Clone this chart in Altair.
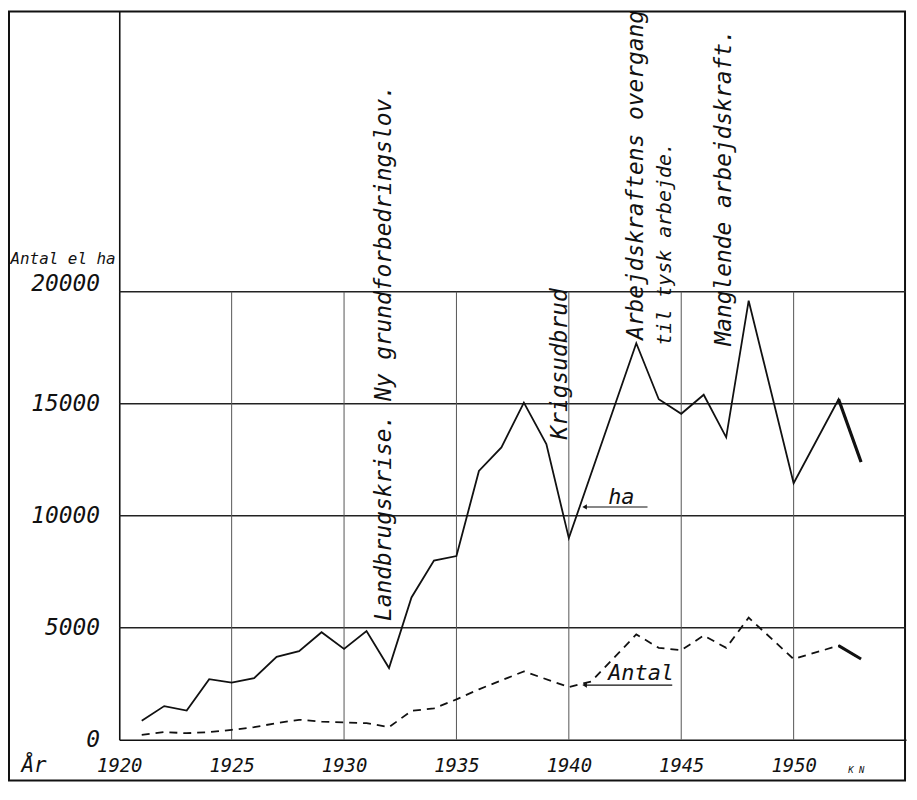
import altair as alt
import pandas as pd

# ---- data ----
ha_years = [1921, 1922, 1923, 1924, 1925, 1926, 1927, 1928, 1929, 1930,
            1931, 1932, 1933, 1934, 1935, 1936, 1937, 1938, 1939, 1940,
            1943, 1944, 1945, 1946, 1947, 1948, 1950, 1952, 1953]
ha_values = [850, 1500, 1300, 2700, 2550, 2750, 3700, 3950, 4800, 4050,
             4850, 3200, 6350, 8000, 8200, 12000, 13050, 15050, 13200, 9000,
             17700, 15200, 14550, 15400, 13500, 19600, 11450, 15200, 12400]

antal_years = [1921, 1922, 1923, 1924, 1925, 1926, 1927, 1928, 1929, 1930,
               1931, 1932, 1933, 1934, 1935, 1936, 1937, 1938, 1940, 1941,
               1943, 1944, 1945, 1946, 1947, 1948, 1950, 1952, 1953]
antal_values = [220, 340, 290, 340, 440, 560, 740, 890, 810, 770,
                740, 560, 1290, 1400, 1800, 2250, 2650, 3050, 2350, 2600,
                4700, 4100, 4000, 4650, 4100, 5450, 3600, 4200, 3600]

x_tick_years = [1920, 1925, 1930, 1935, 1940, 1945, 1950]
grid_years = [1925, 1930, 1935, 1940, 1945, 1950]
y_tick_values = [0, 5000, 10000, 15000, 20000]

ann_texts = ["Landbrugskrise. Ny grundforbedringslov.", "Krigsudbrud",
             "Arbejdskraftens overgang", "til tysk arbejde.",
             "Manglende arbejdskraft."]
ann_years = [1931.8, 1939.6, 1943.0, 1944.3, 1946.9]
ann_values = [5300, 13400, 17850, 17600, 17600]
ann_sizes = [23, 23, 23, 20, 23]

series_labels = ["ha", "Antal"]
series_label_years = [1941.75, 1941.75]
series_label_values = [10520, 2680]
arrow_years = [1940.7, 1940.7]
arrow_end_years = [1943.5, 1944.6]
arrow_values = [10390, 2440]

FONT = "DejaVu Sans Mono"
X_DOMAIN = [1920, 1955]
Y_DOMAIN = [0, 32550]

ha_df = pd.DataFrame({"year": ha_years, "value": ha_values})
antal_df = pd.DataFrame({"year": antal_years, "value": antal_values})
hgrid_df = pd.DataFrame({"value": y_tick_values[1:],
                         "year": X_DOMAIN[0], "year2": X_DOMAIN[1]})
vgrid_df = pd.DataFrame({"year": grid_years, "value": 0,
                         "value2": y_tick_values[-1]})
ann_df = pd.DataFrame({"year": ann_years, "value": ann_values,
                       "text": ann_texts, "size": ann_sizes})
lab_df = pd.DataFrame({"year": series_label_years, "value": series_label_values,
                       "text": series_labels})
arrow_df = pd.DataFrame({"year": arrow_years, "year2": arrow_end_years,
                         "value": arrow_values})
one = pd.DataFrame({"k": [0]})

xs = alt.Scale(domain=X_DOMAIN, nice=False, zero=False)
ys = alt.Scale(domain=Y_DOMAIN, nice=False, zero=False)

x_enc = alt.X("year:Q", scale=xs, axis=alt.Axis(
    values=x_tick_years, format="d", ticks=False, grid=False,
    domain=True, domainColor="#111", domainWidth=1.6,
    labelFont=FONT, labelFontSize=19, labelFontStyle="italic",
    labelColor="#111", labelBaseline="middle", labelPadding=26,
    labelFlush=False, labelOverlap=False,
    title="År", titleFont=FONT, titleFontSize=21, titleFontStyle="italic",
    titleFontWeight="normal", titleColor="#111", titleAngle=0,
    titleAlign="left", titleBaseline="middle", titleX=-99, titleY=26))

y_enc = alt.Y("value:Q", scale=ys, axis=alt.Axis(
    values=y_tick_values, format="d", ticks=False, grid=False,
    domain=True, domainColor="#111", domainWidth=1.6,
    labelFont=FONT, labelFontSize=23, labelFontStyle="italic",
    labelColor="#111", labelBaseline="middle", labelPadding=20,
    labelOverlap=False,
    labelOffset={"condition": {"test": "datum.value == 20000", "value": -8},
                 "value": 0},
    title="Antal el ha", titleFont=FONT, titleFontSize=16,
    titleFontStyle="italic", titleFontWeight="normal", titleColor="#111",
    titleAngle=0, titleAlign="left", titleBaseline="middle",
    titleX=-110, titleY=250))

hgrid = alt.Chart(hgrid_df).mark_rule(color="#222", strokeWidth=1.4).encode(
    x=x_enc, x2="year2:Q", y=y_enc)
vgrid = alt.Chart(vgrid_df).mark_rule(color="#555", strokeWidth=1.0).encode(
    x=x_enc, y=y_enc, y2="value2:Q")

ha_line = alt.Chart(ha_df).mark_line(color="#111", strokeWidth=1.8).encode(
    x=x_enc, y=y_enc)
ha_last = alt.Chart(ha_df).transform_filter("datum.year >= 1952").mark_line(
    color="#111", strokeWidth=3.2).encode(x=x_enc, y=y_enc)
antal_line = alt.Chart(antal_df).mark_line(
    color="#111", strokeWidth=1.8, strokeDash=[8, 6]).encode(x=x_enc, y=y_enc)
antal_last = alt.Chart(antal_df).transform_filter("datum.year >= 1952").mark_line(
    color="#111", strokeWidth=3.0).encode(x=x_enc, y=y_enc)

ann = alt.Chart(ann_df).mark_text(
    angle=270, align="left", baseline="middle", font=FONT,
    fontStyle="italic", color="#111").encode(
    x=x_enc, y=y_enc, text="text:N",
    size=alt.Size("size:Q", scale=None, legend=None))

labs = alt.Chart(lab_df).mark_text(
    align="left", baseline="alphabetic", font=FONT, fontSize=22,
    fontStyle="italic", color="#111").encode(x=x_enc, y=y_enc, text="text:N")
arrows = alt.Chart(arrow_df).mark_rule(color="#111", strokeWidth=1.2).encode(
    x=x_enc, x2="year2:Q", y=y_enc)
heads = alt.Chart(arrow_df).mark_point(
    shape="triangle-left", filled=True, color="#111", size=28, opacity=1).encode(
    x=x_enc, y=y_enc)

frame = alt.Chart(one).mark_rect(
    fillOpacity=0, stroke="#111", strokeWidth=2).encode(
    x=alt.value(-111), x2=alt.value(791), y=alt.value(1), y2=alt.value(775))
kn = alt.Chart(one).mark_text(
    text="K N", font=FONT, fontSize=9, fontStyle="italic", color="#111",
    align="center", baseline="middle").encode(x=alt.value(742), y=alt.value(765))

chart = alt.layer(
    frame, hgrid, vgrid, antal_line, antal_last, ha_line, ha_last,
    ann, labs, arrows, heads, kn
).properties(
    width=792, height=734,
    padding={"left": 112, "top": 0, "right": 3, "bottom": 44},
    autosize=alt.AutoSizeParams(type="none"),
    background="white",
).configure_view(strokeWidth=0)

chart.save("out.html", embed_options={"renderer": "svg", "actions": False})
